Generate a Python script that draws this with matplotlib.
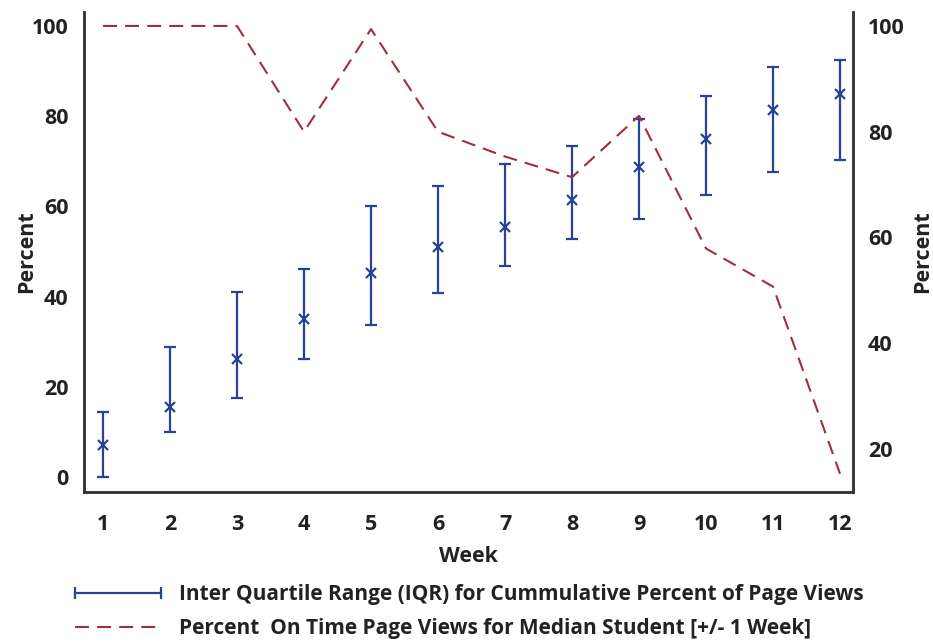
import matplotlib
matplotlib.use('Agg')
import matplotlib.pyplot as plt
from matplotlib.lines import Line2D

plt.rcParams['font.family'] = ['Open Sans', 'DejaVu Sans']
plt.rcParams['font.weight'] = 'bold'
plt.rcParams['axes.labelweight'] = 'bold'

# data
weeks = [1, 2, 3, 4, 5, 6, 7, 8, 9, 10, 11, 12]
iqr_mid = [7.0, 15.6, 26.2, 35.0, 45.2, 51.1, 55.5, 61.5, 68.7, 75.0, 81.3, 85.0]
iqr_low = [0.0, 9.9, 17.5, 26.2, 33.6, 40.9, 46.8, 52.8, 57.2, 62.5, 67.6, 70.4]
iqr_high = [14.3, 28.8, 41.0, 46.2, 60.1, 64.6, 69.4, 73.5, 79.4, 84.4, 91.0, 92.4]
on_time = [100, 100, 100, 80, 99.4, 80, 75.3, 71.4, 83.0, 57.9, 50.7, 15.3]

blue = '#26429a'
red = '#9e2f3c'
txt = '#222222'

fig = plt.figure(figsize=(9.33, 6.42), dpi=100)
ax = fig.add_axes([0.090, 0.234, 0.824, 0.747])
ax2 = ax.twinx()

# error bars (left axis)
err = [[m - l for m, l in zip(iqr_mid, iqr_low)],
       [h - m for m, h in zip(iqr_mid, iqr_high)]]
ax.errorbar(weeks, iqr_mid, yerr=err, fmt='x', color=blue, ms=7, mew=1.6,
            elinewidth=1.6, capsize=4, capthick=1.6)

# dashed line (right axis)
ax2.plot(weeks, on_time, color=red, lw=1.5, dashes=(6.7, 3.9))

ax.set_xlim(0.716, 12.19)
ax.set_ylim(-3.3, 103.1)
ax2.set_ylim(11.9, 102.6)
ax.set_xticks(weeks)
ax.set_yticks([0, 20, 40, 60, 80, 100])
ax2.set_yticks([20, 40, 60, 80, 100])

for a in (ax, ax2):
  a.spines['top'].set_visible(False)
  for s in ('left', 'right', 'bottom'):
    a.spines[s].set_color('#333333')
    a.spines[s].set_linewidth(1.8)
  a.tick_params(length=0, labelsize=15.5, pad=11, colors=txt)
ax.tick_params(axis='x', pad=16)

ax.set_xlabel('Week', fontsize=15.5, labelpad=8, color=txt)
ax.set_ylabel('Percent', fontsize=15.5, labelpad=-4, color=txt)
ax2.set_ylabel('Percent', fontsize=15.5, labelpad=5, color=txt)

# legend below the chart
h1 = Line2D([0, 1], [0, 0], color=blue, lw=1.6, marker='|', ms=9, mew=1.6)
h2 = Line2D([0, 1], [0, 0], color=red, lw=1.5, dashes=(6.7, 3.9))
leg = fig.legend([h1, h2],
           ['Inter Quartile Range (IQR) for Cummulative Percent of Page Views',
            'Percent  On Time Page Views for Median Student [+/- 1 Week]'],
           loc='upper left', bbox_to_anchor=(0.074, 0.090), frameon=False,
           fontsize=15, handlelength=4.7, numpoints=2, labelspacing=0.62,
           handletextpad=0.6, borderpad=0, borderaxespad=0)
for t in leg.get_texts():
  t.set_color(txt)

plt.savefig('out.png', dpi=100)
